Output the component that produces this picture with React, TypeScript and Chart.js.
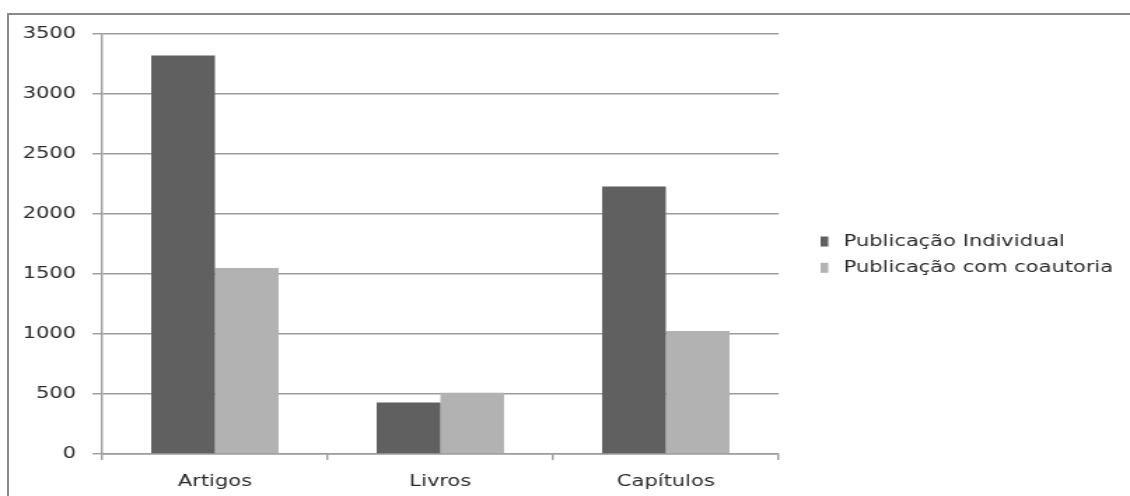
import React, { useEffect, useRef } from "react";
import { Chart, registerables } from "chart.js";

Chart.register(...registerables);

const categories = ["Artigos", "Livros", "Capítulos"];
const seriesNames = ["Publicação Individual", "Publicação com coautoria"];
const individualValues = [3320, 430, 2230];
const coauthorValues = [1550, 510, 1025];
const yMin = 0;
const yMax = 3500;
const yStep = 500;

const seriesColors = ["#606060", "#b2b2b2"];
const STRETCH = 1.4;
const CSS_W = 1130;
const CSS_H = 496;
const BMP_W = Math.round(CSS_W / STRETCH);
const FONT = '"DejaVu Sans", Verdana, sans-serif';
const TEXT_COLOR = "#2a2a2a";

const legendPlugin = {
  id: "customLegend",
  afterDraw(chart: any) {
    const { ctx, chartArea } = chart;
    const mid = (chartArea.top + chartArea.bottom) / 2;
    ctx.save();
    ctx.font = `15px ${FONT}`;
    ctx.textBaseline = "middle";
    ctx.textAlign = "left";
    chart.data.datasets.forEach((ds: any, i: number) => {
      const cy = mid - 2.5 + i * 26.3;
      const bx = chartArea.right + 30;
      ctx.fillStyle = ds.backgroundColor;
      ctx.fillRect(bx, cy - 5, 5.5, 10);
      ctx.fillStyle = TEXT_COLOR;
      ctx.fillText(ds.label, bx + 16.5, cy + 0.5);
    });
    ctx.restore();
  },
};

export default function App() {
  const ref = useRef<HTMLCanvasElement | null>(null);

  useEffect(() => {
    if (!ref.current) return;
    const chart = new Chart(ref.current, {
      type: "bar",
      data: {
        labels: categories,
        datasets: [
          {
            label: seriesNames[0],
            data: individualValues,
            backgroundColor: seriesColors[0],
            borderWidth: 0,
          },
          {
            label: seriesNames[1],
            data: coauthorValues,
            backgroundColor: seriesColors[1],
            borderWidth: 0,
          },
        ],
      },
      options: {
        responsive: false,
        animation: false,
        devicePixelRatio: 1,
        layout: { padding: { left: 4.6, right: 251, top: 34, bottom: 0 } },
        datasets: { bar: { categoryPercentage: 0.565, barPercentage: 1 } },
        plugins: { legend: { display: false }, tooltip: { enabled: false } },
        scales: {
          x: {
            afterFit: (scale: any) => {
              scale.height = 42;
            },
            grid: {
              offset: true,
              drawOnChartArea: false,
              drawTicks: true,
              tickLength: 6,
              color: "#9c9c9c",
              lineWidth: 1.4,
            },
            border: { display: true, color: "#9c9c9c", width: 1.4 },
            ticks: {
              color: TEXT_COLOR,
              padding: 13,
              font: { family: FONT, size: 15 },
              maxRotation: 0,
            },
          },
          y: {
            min: yMin,
            max: yMax,
            grid: {
              color: "#9c9c9c",
              lineWidth: 1.4,
              tickLength: 7,
            },
            border: { display: true, color: "#9c9c9c", width: 1.4 },
            ticks: {
              stepSize: yStep,
              color: TEXT_COLOR,
              padding: 11.6,
              font: { family: FONT, size: 15 },
              callback: (v: any) => String(v),
            },
          },
        },
      },
      plugins: [legendPlugin],
    });
    return () => chart.destroy();
  }, []);

  return (
    <div
      style={{
        position: "fixed",
        left: 0,
        top: 0,
        width: CSS_W,
        height: CSS_H,
        overflow: "hidden",
        background: "#ffffff",
      }}
    >
      <div
        style={{
          position: "absolute",
          left: 7,
          top: 13,
          width: 1300,
          height: 700,
          borderTop: "2px solid #8a8a8a",
          borderLeft: "2px solid #8a8a8a",
        }}
      />
      <canvas
        ref={ref}
        width={BMP_W}
        height={CSS_H}
        style={{
          position: "absolute",
          left: 0,
          top: 0,
          width: `${CSS_W}px`,
          height: `${CSS_H}px`,
        }}
      />
    </div>
  );
}
